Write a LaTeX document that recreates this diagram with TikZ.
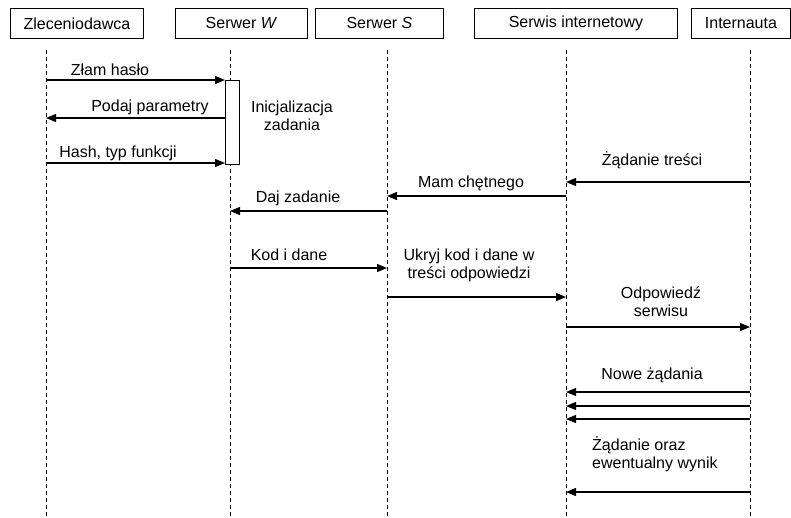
\documentclass[tikz,border=0pt]{standalone}
\usepackage{fontspec}
\setmainfont{Liberation Sans}
\usetikzlibrary{arrows.meta}
\begin{document}
\begin{tikzpicture}[x=1pt,y=-1pt,
  actor/.style={draw,line width=0.9pt,minimum height=30pt,inner sep=0pt,anchor=north west},
  life/.style={line width=0.9pt,dash pattern=on 4pt off 3pt},
  msg/.style={line width=1.2pt,-{Triangle[length=10pt,width=8pt]}},
  lbl/.style={anchor=base,inner sep=0pt,align=center},
  font=\fontsize{16}{18}\selectfont]
\useasboundingbox (0,0) rectangle (791,517);
% actor boxes
\node[actor,minimum width=133pt] (zl) at (10,8) {Zleceniodawca};
\node[actor,minimum width=132pt] (sw) at (175,8) {Serwer \textit{W}};
\node[actor,minimum width=128pt] (ss) at (315,8) {Serwer \textit{S}};
\node[actor,minimum width=203pt] (si) at (474,8) {Serwis internetowy};
\node[actor,minimum width=99pt] (in) at (691,8) {Internauta};
% lifelines
\coordinate (l1) at (46,50);  \coordinate (b1) at (46,517);
\coordinate (l2) at (230,50); \coordinate (b2) at (230,517);
\coordinate (l3) at (387,50); \coordinate (b3) at (387,517);
\coordinate (l4) at (566,50); \coordinate (b4) at (566,517);
\coordinate (l5) at (750,50); \coordinate (b5) at (750,517);
\foreach \i in {1,...,5} \draw[life] (l\i) -- (b\i);
% activation
\node[draw,fill=white,line width=0.9pt,minimum width=14pt,minimum height=84pt,inner sep=0pt,anchor=north west] (act) at (225,80) {};
% messages
\draw[msg] (l1 |- 0,80) -- (act.west |- 0,80);
\node[lbl] (t1) at (110,75) {Złam hasło};
\draw[msg] (act.west |- 0,118) -- (l1 |- 0,118);
\node[lbl] (t2) at (150,111) {Podaj parametry};
\draw[msg] (l1 |- 0,163) -- (act.west |- 0,163);
\node[lbl] (t3) at (118,157) {Hash, typ funkcji};
\node[lbl] (t4) at (292,130) {Inicjalizacja\\zadania};
\draw[msg] (l5 |- 0,182) -- (l4 |- 0,182);
\node[lbl] (t5) at (652,165) {Żądanie treści};
\draw[msg] (l4 |- 0,196) -- (l3 |- 0,196);
\node[lbl] (t6) at (471,187) {Mam chętnego};
\draw[msg] (l3 |- 0,211) -- (l2 |- 0,211);
\node[lbl] (t7) at (298,202) {Daj zadanie};
\draw[msg] (l2 |- 0,268) -- (l3 |- 0,268);
\node[lbl] (t8) at (289,260) {Kod i dane};
\draw[msg] (l3 |- 0,297) -- (l4 |- 0,297);
\node[lbl] (t9) at (469,278) {Ukryj kod i dane w\\treści odpowiedzi};
\draw[msg] (l4 |- 0,327) -- (l5 |- 0,327);
\node[lbl] (t10) at (661,316) {Odpowiedź\\serwisu};
\draw[msg] (l5 |- 0,392) -- (l4 |- 0,392);
\draw[msg] (l5 |- 0,406) -- (l4 |- 0,406);
\draw[msg] (l5 |- 0,419) -- (l4 |- 0,419);
\node[lbl] (t11) at (652,379) {Nowe żądania};
\draw[msg] (l5 |- 0,492) -- (l4 |- 0,492);
\node[lbl,anchor=base west,align=left] (t12) at (592,468) {Żądanie oraz\\ewentualny wynik};
\end{tikzpicture}
\end{document}
